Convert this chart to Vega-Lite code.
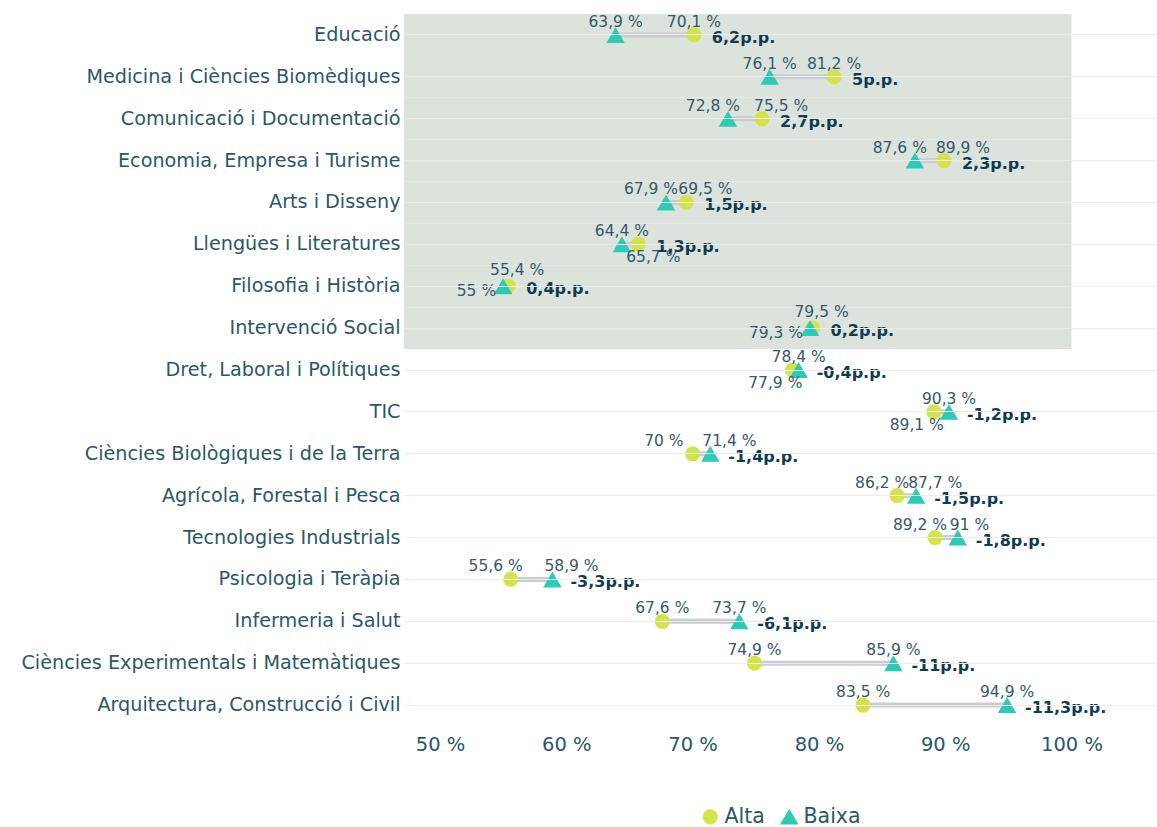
{
  "$schema": "https://vega.github.io/schema/vega-lite/v6.json",
  "width": 753,
  "height": 712,
  "padding": {"left": 5, "top": 14, "right": 0, "bottom": 5},
  "background": "white",
  "config": {
    "locale": {"number": {"decimal": ",", "thousands": ".", "grouping": [3], "currency": ["", " €"], "percent": " %"}},
    "view": {"stroke": null},
    "font": "DejaVu Sans",
    "text": {"fontSize": 15.5, "color": "#35596a"}
  },
  "data": {"values": [
    {"cat": "Educació", "group": "Alta", "value": 0.701, "dl": "6,2p.p."},
    {"cat": "Educació", "group": "Baixa", "value": 0.639, "dl": "6,2p.p."},
    {"cat": "Medicina i Ciències Biomèdiques", "group": "Alta", "value": 0.812, "dl": "5p.p."},
    {"cat": "Medicina i Ciències Biomèdiques", "group": "Baixa", "value": 0.761, "dl": "5p.p."},
    {"cat": "Comunicació i Documentació", "group": "Alta", "value": 0.755, "dl": "2,7p.p."},
    {"cat": "Comunicació i Documentació", "group": "Baixa", "value": 0.728, "dl": "2,7p.p."},
    {"cat": "Economia, Empresa i Turisme", "group": "Alta", "value": 0.899, "dl": "2,3p.p."},
    {"cat": "Economia, Empresa i Turisme", "group": "Baixa", "value": 0.876, "dl": "2,3p.p."},
    {"cat": "Arts i Disseny", "group": "Alta", "value": 0.695, "dl": "1,5p.p."},
    {"cat": "Arts i Disseny", "group": "Baixa", "value": 0.679, "dl": "1,5p.p."},
    {"cat": "Llengües i Literatures", "group": "Alta", "value": 0.657, "dl": "1,3p.p."},
    {"cat": "Llengües i Literatures", "group": "Baixa", "value": 0.644, "dl": "1,3p.p."},
    {"cat": "Filosofia i Història", "group": "Alta", "value": 0.554, "dl": "0,4p.p."},
    {"cat": "Filosofia i Història", "group": "Baixa", "value": 0.55, "dl": "0,4p.p."},
    {"cat": "Intervenció Social", "group": "Alta", "value": 0.795, "dl": "0,2p.p."},
    {"cat": "Intervenció Social", "group": "Baixa", "value": 0.793, "dl": "0,2p.p."},
    {"cat": "Dret, Laboral i Polítiques", "group": "Alta", "value": 0.779, "dl": "-0,4p.p."},
    {"cat": "Dret, Laboral i Polítiques", "group": "Baixa", "value": 0.784, "dl": "-0,4p.p."},
    {"cat": "TIC", "group": "Alta", "value": 0.891, "dl": "-1,2p.p."},
    {"cat": "TIC", "group": "Baixa", "value": 0.903, "dl": "-1,2p.p."},
    {"cat": "Ciències Biològiques i de la Terra", "group": "Alta", "value": 0.70, "dl": "-1,4p.p."},
    {"cat": "Ciències Biològiques i de la Terra", "group": "Baixa", "value": 0.714, "dl": "-1,4p.p."},
    {"cat": "Agrícola, Forestal i Pesca", "group": "Alta", "value": 0.862, "dl": "-1,5p.p."},
    {"cat": "Agrícola, Forestal i Pesca", "group": "Baixa", "value": 0.877, "dl": "-1,5p.p."},
    {"cat": "Tecnologies Industrials", "group": "Alta", "value": 0.892, "dl": "-1,8p.p."},
    {"cat": "Tecnologies Industrials", "group": "Baixa", "value": 0.91, "dl": "-1,8p.p."},
    {"cat": "Psicologia i Teràpia", "group": "Alta", "value": 0.556, "dl": "-3,3p.p."},
    {"cat": "Psicologia i Teràpia", "group": "Baixa", "value": 0.589, "dl": "-3,3p.p."},
    {"cat": "Infermeria i Salut", "group": "Alta", "value": 0.676, "dl": "-6,1p.p."},
    {"cat": "Infermeria i Salut", "group": "Baixa", "value": 0.737, "dl": "-6,1p.p."},
    {"cat": "Ciències Experimentals i Matemàtiques", "group": "Alta", "value": 0.749, "dl": "-11p.p."},
    {"cat": "Ciències Experimentals i Matemàtiques", "group": "Baixa", "value": 0.859, "dl": "-11p.p."},
    {"cat": "Arquitectura, Construcció i Civil", "group": "Alta", "value": 0.835, "dl": "-11,3p.p."},
    {"cat": "Arquitectura, Construcció i Civil", "group": "Baixa", "value": 0.949, "dl": "-11,3p.p."}
  ]},
  "encoding": {
    "y": {
      "field": "cat", "type": "nominal", "sort": null,
      "scale": {"paddingInner": 0, "paddingOuter": 0},
      "axis": {
        "title": null, "ticks": false, "domain": false, "labelPadding": 4,
        "minExtent": 399, "maxExtent": 399,
        "labelFont": "DejaVu Sans", "labelFontSize": 19.2, "labelColor": "#2a5869",
        "gridColor": "#ebebeb", "grid": true, "labelLimit": 500
      }
    }
  },
  "layer": [
    {
      "transform": [{"filter": "datum.group == 'Alta' && substring(datum.dl, 0, 1) != '-'"}],
      "mark": {"type": "rect", "color": "#d9e1d9", "opacity": 0.92},
      "encoding": {
        "x": {"datum": 0.4715, "type": "quantitative"},
        "x2": {"datum": 1.0}
      }
    },
    {
      "mark": {"type": "rule", "color": "#c9cdd2", "strokeWidth": 5},
      "encoding": {
        "x": {"aggregate": "min", "field": "value", "type": "quantitative",
          "scale": {"domain": [0.4715, 1.0677], "nice": false, "zero": false},
          "axis": {"title": null, "format": ".0%", "values": [0.5, 0.6, 0.7, 0.8, 0.9, 1.0],
            "ticks": false, "domain": false, "labelFont": "DejaVu Sans", "labelFontSize": 19.5,
            "labelColor": "#2b5668", "labelPadding": 9, "gridColor": "#ebebeb"}},
        "x2": {"aggregate": "max", "field": "value"}
      }
    },
    {
      "mark": {"type": "point", "filled": true, "opacity": 1},
      "encoding": {
        "x": {"field": "value", "type": "quantitative"},
        "color": {"field": "group", "type": "nominal",
          "scale": {"domain": ["Alta", "Baixa"], "range": ["#d3e34c", "#2ccbb5"]},
          "legend": {"title": null, "orient": "none", "legendX": 296, "legendY": 792, "direction": "horizontal",
            "labelFont": "DejaVu Sans", "labelFontSize": 20.5, "labelColor": "#2a5869",
            "symbolSize": 290, "symbolOpacity": 1, "columnPadding": 12, "labelOffset": 4}},
        "shape": {"field": "group", "type": "nominal",
          "scale": {"domain": ["Alta", "Baixa"], "range": ["circle", "triangle-up"]}},
        "size": {"field": "group", "type": "nominal",
          "scale": {"domain": ["Alta", "Baixa"], "range": [230, 340]}, "legend": null}
      }
    },
    {
      "transform": [{"filter": "indexof(['Educació|Alta','Educació|Baixa','Medicina i Ciències Biomèdiques|Alta','Medicina i Ciències Biomèdiques|Baixa','Llengües i Literatures|Baixa','Dret, Laboral i Polítiques|Baixa','TIC|Baixa','Infermeria i Salut|Alta','Infermeria i Salut|Baixa','Ciències Experimentals i Matemàtiques|Alta','Ciències Experimentals i Matemàtiques|Baixa','Arquitectura, Construcció i Civil|Alta','Arquitectura, Construcció i Civil|Baixa'], datum.cat + '|' + datum.group) >= 0"}],
      "mark": {"type": "text", "dy": -13},
      "encoding": {
        "x": {"field": "value", "type": "quantitative"},
        "text": {"field": "value", "type": "quantitative", "format": ".1~%"}
      }
    },
    {
      "transform": [{"filter": "indexof(['Filosofia i Història|Alta','Intervenció Social|Alta'], datum.cat + '|' + datum.group) >= 0"}],
      "mark": {"type": "text", "dy": -16, "dx": 9},
      "encoding": {
        "x": {"field": "value", "type": "quantitative"},
        "text": {"field": "value", "type": "quantitative", "format": ".1~%"}
      }
    },
    {
      "transform": [{"filter": "indexof(['Comunicació i Documentació|Baixa','Economia, Empresa i Turisme|Baixa','Arts i Disseny|Baixa','Agrícola, Forestal i Pesca|Alta','Tecnologies Industrials|Alta','Psicologia i Teràpia|Alta'], datum.cat + '|' + datum.group) >= 0"}],
      "mark": {"type": "text", "dy": -13, "dx": 12, "align": "right"},
      "encoding": {
        "x": {"field": "value", "type": "quantitative"},
        "text": {"field": "value", "type": "quantitative", "format": ".1~%"}
      }
    },
    {
      "transform": [{"filter": "datum.cat == 'Ciències Biològiques i de la Terra' && datum.group == 'Alta'"}],
      "mark": {"type": "text", "dy": -13, "dx": -9, "align": "right"},
      "encoding": {
        "x": {"field": "value", "type": "quantitative"},
        "text": {"field": "value", "type": "quantitative", "format": ".1~%"}
      }
    },
    {
      "transform": [{"filter": "indexof(['Comunicació i Documentació|Alta','Economia, Empresa i Turisme|Alta','Arts i Disseny|Alta','Agrícola, Forestal i Pesca|Baixa','Tecnologies Industrials|Baixa','Ciències Biològiques i de la Terra|Baixa','Psicologia i Teràpia|Baixa'], datum.cat + '|' + datum.group) >= 0"}],
      "mark": {"type": "text", "dy": -13, "dx": -8, "align": "left"},
      "encoding": {
        "x": {"field": "value", "type": "quantitative"},
        "text": {"field": "value", "type": "quantitative", "format": ".1~%"}
      }
    },
    {
      "transform": [{"filter": "indexof(['Filosofia i Història|Baixa','Intervenció Social|Baixa'], datum.cat + '|' + datum.group) >= 0"}],
      "mark": {"type": "text", "dy": 5, "dx": -7, "align": "right"},
      "encoding": {
        "x": {"field": "value", "type": "quantitative"},
        "text": {"field": "value", "type": "quantitative", "format": ".1~%"}
      }
    },
    {
      "transform": [{"filter": "indexof(['Dret, Laboral i Polítiques|Alta','TIC|Alta'], datum.cat + '|' + datum.group) >= 0"}],
      "mark": {"type": "text", "dy": 13, "dx": 10, "align": "right"},
      "encoding": {
        "x": {"field": "value", "type": "quantitative"},
        "text": {"field": "value", "type": "quantitative", "format": ".1~%"}
      }
    },
    {
      "transform": [{"filter": "datum.cat == 'Llengües i Literatures' && datum.group == 'Alta'"}],
      "mark": {"type": "text", "dy": 13, "dx": 15},
      "encoding": {
        "x": {"field": "value", "type": "quantitative"},
        "text": {"field": "value", "type": "quantitative", "format": ".1~%"}
      }
    },
    {
      "mark": {"type": "text", "align": "left", "dx": 18, "dy": 3, "fontSize": 16, "fontWeight": "bold", "color": "#0f3c50"},
      "encoding": {
        "x": {"aggregate": "max", "field": "value", "type": "quantitative"},
        "text": {"field": "dl", "type": "nominal"}
      }
    }
  ]
}
